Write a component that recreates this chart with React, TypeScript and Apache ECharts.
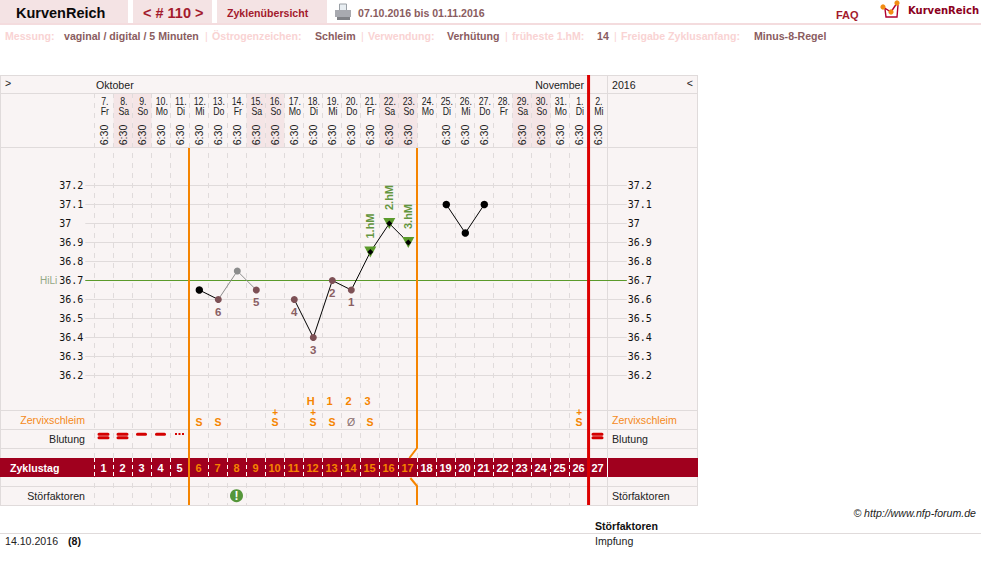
import React, { useEffect, useRef } from "react";
import * as echarts from "echarts";

const SANS = "'Liberation Sans', Arial, sans-serif";
const MONO = "'DejaVu Sans Mono', monospace";

// ---- data ----
const dateNumbers = ["7.", "8.", "9.", "10.", "11.", "12.", "13.", "14.", "15.", "16.", "17.", "18.", "19.", "20.", "21.", "22.", "23.", "24.", "25.", "26.", "27.", "28.", "29.", "30.", "31.", "1.", "2."];
const weekdays = ["Fr", "Sa", "So", "Mo", "Di", "Mi", "Do", "Fr", "Sa", "So", "Mo", "Di", "Mi", "Do", "Fr", "Sa", "So", "Mo", "Di", "Mi", "Do", "Fr", "Sa", "So", "Mo", "Di", "Mi"];
const weekendDays = [2, 3, 9, 10, 16, 17, 23, 24];
const noTimeDays = [18, 22];
const timeLabel = "6:30";
const cycleDays = Array.from({ length: 27 }, (_, i) => i + 1);
const temperatureDays = [6, 7, 8, 9, 11, 12, 13, 14, 15, 16, 17, 19, 20, 21];
const temperatureValues = [36.65, 36.6, 36.75, 36.65, 36.6, 36.4, 36.7, 36.65, 36.85, 37, 36.9, 37.1, 36.95, 37.1];
const blackDays = [6, 19, 20, 21];
const greyDays = [8];
const coverDays = [7, 9, 11, 12, 13, 14];
const coverNumbers = ["6", "5", "4", "3", "2", "1"];
const highDays = [15, 16, 17];
const highLabels = ["1.hM", "2.hM", "3.hM"];
const blackRuns = [[6, 7], [11, 12, 13, 14, 15, 16, 17], [19, 20, 21]];
const greyRuns = [[7, 8, 9]];
const coverLine = 36.7;
const peakDays = [12, 13, 14, 15];
const peakLabels = ["H", "1", "2", "3"];
const mucusDays = [6, 7, 10, 12, 13, 15, 26];
const mucusLabel = "S";
const mucusPlusDays = [10, 12, 26];
const dryDays = [14];
const dryLabel = "Ø";
const bleedHeavyDays = [1, 2, 27];
const bleedMediumDays = [3, 4];
const bleedLightDays = [5];
const disturbanceDays = [8];
const fertileStartBoundary = 5;
const fertileEndBoundary = 17;
const cycleEndBoundary = 26;
const fertileDigitDays = [6, 7, 8, 9, 10, 11, 12, 13, 14, 15, 16, 17];

const infoLabels = ["Messung:", "Östrogenzeichen:", "Verwendung:", "früheste 1.hM:", "Freigabe Zyklusanfang:"];
const infoValues = ["vaginal / digital / 5 Minuten", "Schleim", "Verhütung", "14", "Minus-8-Regel"];

// ---- layout ----
const infoLabelX = [5, 212, 368, 512, 621];
const infoValueX = [64, 315, 447, 597, 754];
const separatorX = [205, 361, 505, 614];
const rowY = { date: 101, weekday: 111.5, time: 135, peak: 401, plus: 412.5, mucus: 422.3, bleed: 436, digit: 467.5, disturb: 495.7 };
const borderYs = [75.5, 93.5, 147.5, 410.5, 429.5, 448.5, 486.5, 505.5];

const C = {
  tab: "#f4e3e4", rule: "#f4dcde", bg: "#f9f4f4", line: "#e0dbdb", weekend: "#f4e5e6", band: "#a0001e",
  orange: "#f58400", red: "#dc0000", brown: "#7d5055", grey: "#8c8c8c", green: "#5b9a2b", greenText: "#64963f",
  pale: "#f9d3d3", dim: "#8a5c60", crimson: "#a31a2c",
};

const tempOf = (d: number) => temperatureValues[temperatureDays.indexOf(d)];
const centre = (d: number) => d - 0.5;

function textSeries(name: string, items: [number, number, string][], label: any, z = 6): any {
  return {
    type: "scatter", name, xAxisIndex: 1, yAxisIndex: 2, symbolSize: 1, z, silent: true,
    itemStyle: { color: "transparent", opacity: 1 },
    label: { show: true, position: "inside", fontFamily: SANS, formatter: (p: any) => p.value[2], ...label },
    data: items,
  };
}
function condensedSeries(name: string, texts: string[], y: number): any {
  return {
    type: "custom", name, xAxisIndex: 1, yAxisIndex: 2, z: 6, silent: true,
    renderItem: (_: any, api: any) => {
      const i = api.value(0);
      const p = api.coord([centre(i + 1) + 0.07, y]);
      return {
        type: "text", x: p[0], y: p[1], scaleX: 0.84,
        style: { text: texts[i], fill: "#222", fontSize: 10.5, fontFamily: SANS, align: "center", verticalAlign: "middle" },
      };
    },
    data: texts.map((_, i) => [i]),
  };
}
function vline(name: string, pts: any[], color: string, width: number): any {
  return {
    type: "line", name, xAxisIndex: 1, yAxisIndex: 2, symbol: "none", clip: false, z: 5, silent: true,
    lineStyle: { color, width }, data: pts,
  };
}
function markSeries(name: string, symbol: any, size: any, color: string, extra: any = {}): any {
  return {
    type: "scatter", name, xAxisIndex: 1, yAxisIndex: 2, symbol, symbolSize: size, z: 6, silent: true,
    itemStyle: { color, opacity: 1 }, ...extra,
  };
}
function txt(text: string, x: number, y: number, fill: string, opts: any = {}): any {
  const { fontSize = 10.6, fontWeight = "normal", align = "left", fontStyle = "normal", fontFamily = SANS } = opts;
  return {
    type: "text", x, y, z: 10, silent: true,
    style: { text, fill, fontSize, fontWeight, fontStyle, fontFamily, align, verticalAlign: "middle" },
  };
}
function rect(x: number, y: number, width: number, height: number, fill: string, z = -1, stroke?: string): any {
  return { type: "rect", z, silent: true, shape: { x, y, width, height }, style: { fill, stroke, lineWidth: stroke ? 1 : 0 } };
}
function hline(x1: number, y: number, x2: number, stroke: string, z = 1): any {
  return { type: "line", z, silent: true, shape: { x1, y1: y, x2, y2: y }, style: { stroke, lineWidth: 1 } };
}

function buildGraphics(): any[] {
  const els: any[] = [
    // top bar
    rect(0, 0, 128, 23, C.tab), rect(133, 0, 79, 23, C.tab), rect(217, 0, 110, 23, C.tab),
    rect(0, 23, 981, 2, C.rule),
    txt("KurvenReich", 16, 13, "#0a0a0a", { fontSize: 14.5, fontWeight: "bold" }),
    txt("< # 110 >", 143, 13, C.crimson, { fontSize: 14.5, fontWeight: "bold" }),
    txt("Zyklenübersicht", 227, 12.5, C.crimson, { fontWeight: "bold" }),
    txt("07.10.2016 bis 01.11.2016", 358, 12.5, C.dim, { fontWeight: "bold" }),
    txt("FAQ", 836, 14.5, C.crimson, { fontWeight: "bold", fontSize: 11 }),
    txt("KurvenReich", 908, 10.5, "#8b0020", { fontWeight: "bold", fontSize: 10, fontFamily: "'DejaVu Sans', sans-serif" }),
    // printer icon
    rect(339.5, 4, 7, 7, "#e8eef2", 9, "#9aa0a6"),
    rect(335, 10, 16, 7, "#a8aab0", 9),
    rect(337, 17, 13, 3, "#7f8186", 9),
    // logo
    { type: "polyline", z: 9, silent: true, shape: { points: [[885, 9], [886, 17], [897, 17], [898, 5]] }, style: { stroke: "#b00030", lineWidth: 1.4, fill: "none" } },
    { type: "polyline", z: 9, silent: true, shape: { points: [[883, 7], [891, 12], [897, 3]] }, style: { stroke: "#b00030", lineWidth: 1.4, fill: "none" } },
    { type: "circle", z: 10, silent: true, shape: { cx: 883, cy: 7, r: 2.6 }, style: { fill: "#f28c12" } },
    { type: "circle", z: 10, silent: true, shape: { cx: 891, cy: 12, r: 2.6 }, style: { fill: "#f28c12" } },
    { type: "circle", z: 10, silent: true, shape: { cx: 897, cy: 3, r: 2.6 }, style: { fill: "#f28c12" } },
    // table
    rect(0, 75, 698, 431, C.bg, -2),
    rect(0, 458, 698, 19, C.band, 3),
    { type: "line", z: 4, silent: true, shape: { x1: 607.5, y1: 458, x2: 607.5, y2: 477 }, style: { stroke: "#ffffff", lineWidth: 1 } },
    { type: "line", z: 1, silent: true, shape: { x1: 607.5, y1: 75, x2: 607.5, y2: 505 }, style: { stroke: C.line, lineWidth: 1 } },
    { type: "line", z: 1, silent: true, shape: { x1: 0.5, y1: 75, x2: 0.5, y2: 505 }, style: { stroke: C.line, lineWidth: 1 } },
    { type: "line", z: 1, silent: true, shape: { x1: 697.5, y1: 75, x2: 697.5, y2: 505 }, style: { stroke: C.line, lineWidth: 1 } },
    ...borderYs.map((y) => hline(0, y, 698, C.line)),
    hline(0, 533.5, 981, C.line),
    txt(">", 5, 83, "#222"), txt("Oktober", 96, 85, "#222"), txt("November", 584, 85, "#222", { align: "right" }),
    txt("2016", 612, 85, "#222"), txt("<", 693, 83, "#222", { align: "right" }),
    txt("HiLi", 40, 280, "#93a885", { fontSize: 10 }),
    txt("Zervixschleim", 85, 420, "#f58a1a", { align: "right" }), txt("Zervixschleim", 612, 420, "#f58a1a"),
    txt("Blutung", 85, 439, "#222", { align: "right" }), txt("Blutung", 612, 439, "#222"),
    txt("Störfaktoren", 85, 496, "#222", { align: "right" }), txt("Störfaktoren", 612, 496, "#222"),
    txt("Zyklustag", 10, 467.5, "#ffffff", { fontWeight: "bold" }),
    txt("© http://www.nfp-forum.de", 976, 513, "#222", { fontStyle: "italic", align: "right" }),
    txt("Störfaktoren", 595, 526, "#111", { fontWeight: "bold" }),
    txt("14.10.2016", 5, 541, "#222"), txt("(8)", 68, 541, "#111", { fontWeight: "bold" }),
    txt("Impfung", 595, 541, "#222"),
  ];
  infoLabels.forEach((t, i) => els.push(txt(t, infoLabelX[i], 36, C.pale, { fontWeight: "bold" })));
  infoValues.forEach((t, i) => els.push(txt(t, infoValueX[i], 36, C.dim, { fontWeight: "bold" })));
  separatorX.forEach((x) => els.push(txt("|", x, 36, C.pale)));
  return els;
}

function buildOption(): any {
  const hiddenAxis = { axisLine: { show: false }, axisTick: { show: false }, axisLabel: { show: false } };
  const tempAxisLabel = { fontFamily: MONO, fontSize: 10, color: "#111" };
  const xy = (d: number): [number, number] => [d, tempOf(d)];

  const series: any[] = [
    // weekend shading
    {
      type: "custom", name: "Wochenende", xAxisIndex: 1, yAxisIndex: 2, z: 1, silent: true,
      renderItem: (_: any, api: any) => {
        const a = api.coord([api.value(0) - 1, rowY.date - 7]);
        const b = api.coord([api.value(0), rowY.time + 12]);
        return { type: "rect", shape: { x: a[0] + 0.5, y: a[1], width: b[0] - a[0], height: b[1] - a[1] }, style: { fill: C.weekend } };
      },
      data: weekendDays.map((d) => [d]),
    },
    condensedSeries("Datum", dateNumbers, rowY.date),
    condensedSeries("Wochentag", weekdays, rowY.weekday),
    textSeries("Uhrzeit", cycleDays.filter((d) => !noTimeDays.includes(d)).map((d) => [centre(d), rowY.time, timeLabel]), { fontSize: 10.6, color: "#222", rotate: 90 }),
    textSeries("Höhepunkt", peakDays.map((d, i) => [centre(d) - 0.1, rowY.peak, peakLabels[i]]), { fontSize: 11, fontWeight: "bold", color: C.orange }),
    textSeries("Schleim", mucusDays.map((d) => [centre(d) + 0.03, rowY.mucus, mucusLabel]), { fontSize: 10.5, fontWeight: "bold", color: C.orange }),
    textSeries("Schleim plus", mucusPlusDays.map((d) => [centre(d) + 0.03, rowY.plus, "+"]), { fontSize: 10, fontWeight: "bold", color: C.orange }),
    textSeries("Trocken", dryDays.map((d) => [centre(d) + 0.03, rowY.mucus, dryLabel]), { fontSize: 10.5, color: "#8a7070" }),
    textSeries("Zyklustag", cycleDays.map((d) => [centre(d), rowY.digit, String(d)]), {
      fontSize: 11, fontWeight: "bold",
      color: "#ffffff",
      rich: { f: { color: C.orange, fontSize: 11, fontWeight: "bold", fontFamily: SANS } },
      formatter: (p: any) => (fertileDigitDays.includes(Number(p.value[2])) ? `{f|${p.value[2]}}` : p.value[2]),
    }, 7),

    // bleeding rows
    markSeries("Blutung stark", "path://M1.5 0H10.5A1.5 1.5 0 0 1 10.5 3H1.5A1.5 1.5 0 0 1 1.5 0ZM1.5 3.6H10.5A1.5 1.5 0 0 1 10.5 6.6H1.5A1.5 1.5 0 0 1 1.5 3.6Z", [12, 6.6], "#d40000",
      { data: bleedHeavyDays.map((d) => [centre(d), rowY.bleed]) }),
    markSeries("Blutung mittel", "path://M1.5 0H9.5A1.5 1.5 0 0 1 9.5 3H1.5A1.5 1.5 0 0 1 1.5 0Z", [11, 3], "#d40000",
      { data: bleedMediumDays.map((d) => [centre(d), rowY.bleed - 1.7]) }),
    markSeries("Blutung leicht", "path://M0 0H2V2H0ZM3.5 0H5.5V2H3.5ZM7 0H9V2H7Z", [9, 2], "#d40000",
      { data: bleedLightDays.map((d) => [centre(d), rowY.bleed - 2]) }),

    // disturbance
    markSeries("Störfaktor", "circle", 13, "#55963a", {
      data: disturbanceDays.map((d) => [centre(d), rowY.disturb]),
      label: { show: true, position: "inside", formatter: "!", color: "#fff", fontFamily: SANS, fontSize: 12, fontWeight: "bold" },
    }),

    // phase lines
    vline("Beginn", [[fertileStartBoundary, 148], [fertileStartBoundary, 505]], C.orange, 2),
    vline("Ende oben", [[fertileEndBoundary, 148], [fertileEndBoundary, 448], [fertileEndBoundary - 0.4, 458]], C.orange, 2),
    vline("Ende unten", [[fertileEndBoundary - 0.35, 478], [fertileEndBoundary, 486], [fertileEndBoundary, 505]], C.orange, 2),
    vline("Zyklusende", [[cycleEndBoundary + 0.03, 75], [cycleEndBoundary + 0.03, 505]], C.red, 3),

    // cover line
    { type: "line", name: "HiLi", symbol: "none", z: 3, silent: true, lineStyle: { color: C.green, width: 1 }, data: [[0, coverLine], [28.5, coverLine]] },

    // temperature lines
    ...greyRuns.map((run, i) => ({ type: "line", name: `grau${i}`, symbol: "none", z: 6, silent: true, lineStyle: { color: C.grey, width: 1 }, data: run.map(xy) })),
    ...blackRuns.map((run, i) => ({ type: "line", name: `schwarz${i}`, symbol: "none", z: 6, silent: true, lineStyle: { color: "#000", width: 1 }, data: run.map(xy) })),

    // temperature points
    { type: "scatter", name: "Messwert", symbol: "circle", symbolSize: 7.5, z: 7, silent: true, itemStyle: { color: "#000", opacity: 1 }, data: blackDays.map(xy) },
    { type: "scatter", name: "ausgeklammert", symbol: "circle", symbolSize: 7, z: 7, silent: true, itemStyle: { color: C.grey, opacity: 1 }, data: greyDays.map(xy) },
    {
      type: "scatter", name: "Hilfslinie", symbol: "circle", symbolSize: 7, z: 7, silent: true, itemStyle: { color: C.brown, opacity: 1 },
      label: { show: true, position: "inside", offset: [0, 12], color: "#8a6064", fontFamily: SANS, fontSize: 11.5, fontWeight: "bold", formatter: (p: any) => p.value[2] },
      data: coverDays.map((d, i) => [d, tempOf(d), coverNumbers[i]]),
    },
    {
      type: "scatter", name: "hM", symbol: "triangle", symbolRotate: 180, symbolSize: [12, 11], z: 7, silent: true, itemStyle: { color: C.green, opacity: 1 },
      label: { show: true, position: "inside", rotate: 90, offset: [26, 0], color: C.greenText, fontFamily: SANS, fontSize: 11, fontWeight: "bold", formatter: (p: any) => p.value[2] },
      data: highDays.map((d, i) => [d, tempOf(d), highLabels[i]]),
    },
    { type: "scatter", name: "hM Punkt", symbol: "diamond", symbolSize: 6, z: 8, silent: true, itemStyle: { color: "#000", opacity: 1 }, data: highDays.map(xy) },
  ];

  return {
    animation: false,
    backgroundColor: "#ffffff",
    graphic: { elements: buildGraphics() },
    grid: [
      { left: 85.3, top: 185.5, width: 541.5, height: 190, containLabel: false },
      { left: 94, top: 93, width: 513, height: 412, containLabel: false },
      { left: 94, top: 458, width: 513, height: 19, containLabel: false },
    ],
    xAxis: [
      { type: "value", gridIndex: 0, min: 0, max: 28.5, ...hiddenAxis, splitLine: { show: false } },
      { type: "value", gridIndex: 1, min: 0, max: 27, interval: 1, z: 2, ...hiddenAxis, splitLine: { show: true, lineStyle: { color: C.line, width: 1, type: [5, 5] } } },
      { type: "value", gridIndex: 2, min: 0, max: 27, interval: 1, z: 4, ...hiddenAxis, splitLine: { show: true, lineStyle: { color: "#ffffff", width: 1, type: [4, 3] } } },
    ],
    yAxis: [
      {
        type: "value", gridIndex: 0, min: 36.2, max: 37.2, interval: 0.1, position: "left",
        axisLine: { show: false }, axisTick: { show: false },
        axisLabel: { ...tempAxisLabel, margin: 26, align: "left" },
        splitLine: { show: true, lineStyle: { color: C.line, width: 1 } },
      },
      {
        type: "value", gridIndex: 0, min: 36.2, max: 37.2, interval: 0.1, position: "right",
        axisLine: { show: false }, axisTick: { show: false },
        axisLabel: { ...tempAxisLabel, margin: 1, align: "left" },
        splitLine: { show: false },
      },
      { type: "value", gridIndex: 1, min: 93, max: 505, inverse: true, ...hiddenAxis, splitLine: { show: false } },
      { type: "value", gridIndex: 2, min: 0, max: 1, ...hiddenAxis, splitLine: { show: false } },
    ],
    series,
  };
}

export default function App() {
  const ref = useRef<HTMLDivElement>(null);
  useEffect(() => {
    const chart = echarts.init(ref.current!, undefined, { renderer: "svg" });
    chart.setOption(buildOption());
    return () => chart.dispose();
  }, []);
  return <div ref={ref} style={{ position: "fixed", left: 0, top: 0, width: 981, height: 565 }} />;
}
